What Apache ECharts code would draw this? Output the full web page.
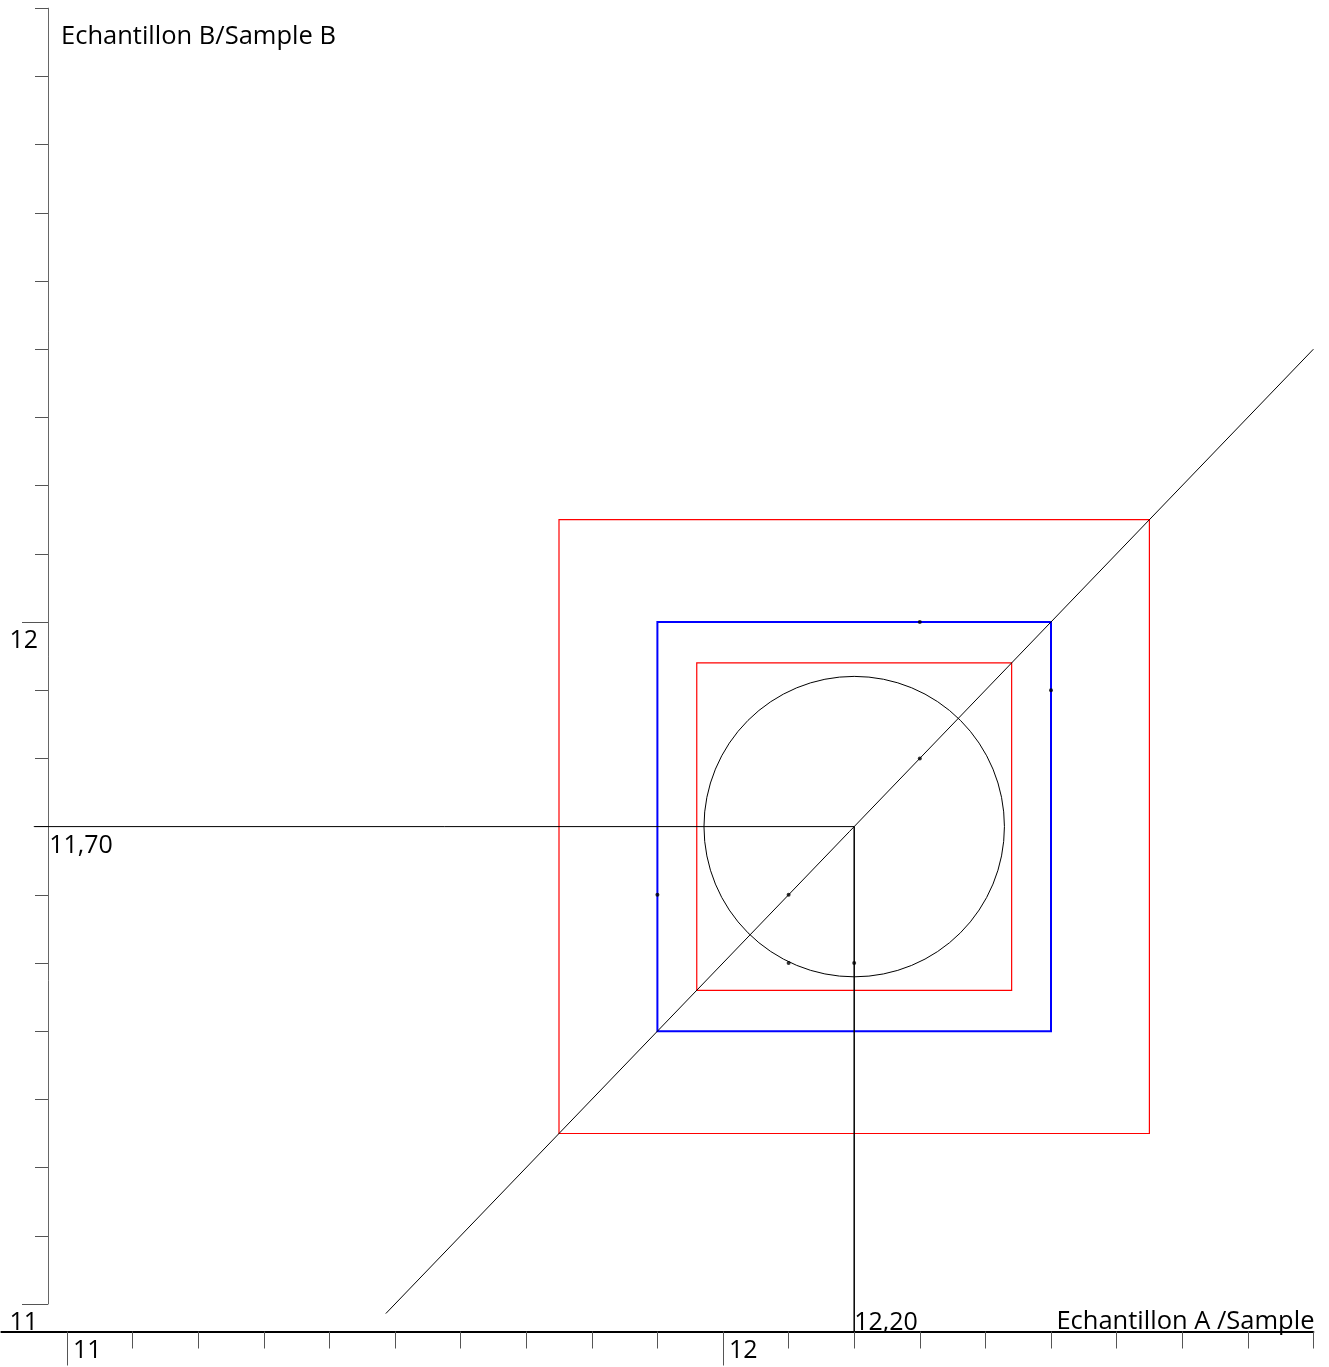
<!DOCTYPE html>
<html>
<head>
<meta charset="utf-8">
<title>Echantillon A / Echantillon B</title>
<script src="https://cdn.jsdelivr.net/npm/echarts@6.0.0/dist/echarts.min.js"></script>
<style>
	html, body { margin: 0; padding: 0; background: #fff; }
	#main { width: 1329px; height: 1367px; }
</style>
</head>
<body>
<div id="main"></div>
<script>
	// points
	var sampleA = [12.3, 12.5, 12.3, 12.1, 11.9, 12.1, 12.2];
	var sampleB = [12.0, 11.9, 11.8, 11.6, 11.6, 11.5, 11.5];
	var centre = [12.20, 11.70];
	// cadres : [A min, B min, A max, B max]
	var outerBox = [11.75, 11.25, 12.65, 12.15];
	var blueBox = [11.90, 11.40, 12.50, 12.00];
	var innerBox = [11.96, 11.46, 12.44, 11.94];
	var circleRadius = 0.229;
	// droite B = A - 0,5
	var diagA = [11.486, 12.9];
	var diagB = [10.986, 12.4];
	// traits du centre vers les axes
	var crossA = [10.95, 12.20, 12.20];
	var crossB = [11.70, 11.70, 10.96];

	var xMin = 10.9, xMax = 12.9;
	var yMin = 11, yMax = 12.9;
	var xMajorTicks = [11, 12];
	var xMinorTicks = [11.1, 11.2, 11.3, 11.4, 11.5, 11.6, 11.7, 11.8, 11.9, 12.1, 12.2, 12.3, 12.4, 12.5, 12.6, 12.7, 12.8, 12.9];
	var yMajorTicks = [11, 12];
	var yMinorTicks = [11.1, 11.2, 11.3, 11.4, 11.5, 11.6, 11.7, 11.8, 11.9, 12.1, 12.2, 12.3, 12.4, 12.5, 12.6, 12.7, 12.8, 12.9];

	var font = '"Open Sans", sans-serif';
	function fr(v) { return v.toFixed(2).replace('.', ','); }

	function boxSeries(name, limits, color, width) {
		return {
			name: name,
			type: 'custom',
			silent: true,
			data: [limits],
			renderItem: function (params, api) {
				var p0 = api.coord([api.value(0), api.value(3)]);
				var p1 = api.coord([api.value(2), api.value(1)]);
				return {
					type: 'rect',
					shape: { x: p0[0], y: p0[1], width: p1[0] - p0[0], height: p1[1] - p0[1] },
					style: { fill: 'none', stroke: color, lineWidth: width }
				};
			}
		};
	}

	var points = [];
	for (var i = 0; i < sampleA.length; i++) {
		points.push([sampleA[i], sampleB[i]]);
	}

	var myChart = echarts.init(document.getElementById('main'));
	var option = {
		animation: false,
		grid: {
			left: 1.4,
			right: 15.6,
			top: 8.2,
			bottom: 63,
			containLabel: false,
			outerBoundsMode: 'none'
		},
		xAxis: [
			{
				type: 'value', min: xMin, max: xMax, position: 'bottom', offset: 27.5,
				axisLine: { show: true, lineStyle: { color: '#000', width: 2 } },
				axisTick: { show: true, customValues: xMajorTicks, length: 34, lineStyle: { color: '#555', width: 1 } },
				axisLabel: {
					show: true, customValues: xMajorTicks, margin: 0,
					formatter: '{a|{value}}',
					rich: { a: { padding: [0, 0, 0, 6], lineHeight: 39, fontSize: 25, color: '#000', fontFamily: font } },
					align: 'left', verticalAlign: 'top', lineHeight: 39,
					fontSize: 25, color: '#000', fontFamily: font
				},
				splitLine: { show: false },
				name: 'Echantillon A /Sample B',
				nameLocation: 'end',
				nameGap: -257,
				nameMoveOverlap: false,
				nameTruncate: { maxWidth: 260, ellipsis: '' },
				nameTextStyle: {
					align: 'left', verticalAlign: 'bottom', lineHeight: 20,
					fontSize: 25.5, color: '#000', fontFamily: font
				}
			},
			{
				type: 'value', min: xMin, max: xMax, position: 'bottom', offset: 27.5,
				axisLine: { show: false },
				axisTick: { show: true, customValues: xMinorTicks, length: 17, lineStyle: { color: '#555', width: 1 } },
				axisLabel: { show: false },
				splitLine: { show: false }
			}
		],
		yAxis: [
			{
				type: 'value', min: yMin, max: yMax, position: 'left', offset: -46.6,
				axisLine: { show: true, lineStyle: { color: '#666', width: 1 } },
				axisTick: { show: true, customValues: yMajorTicks, length: 26, lineStyle: { color: '#555', width: 1 } },
				axisLabel: {
					show: true, customValues: yMajorTicks, margin: 10,
					align: 'right', verticalAlign: 'top', lineHeight: 38,
					fontSize: 25, color: '#000', fontFamily: font
				},
				splitLine: { show: false },
				name: 'Echantillon B/Sample B',
				nameLocation: 'end',
				nameGap: -28.3,
				nameMoveOverlap: false,
				nameTextStyle: {
					align: 'left', verticalAlign: 'middle', padding: [0, 0, 0, 13],
					fontSize: 25.5, color: '#000', fontFamily: font
				}
			},
			{
				type: 'value', min: yMin, max: yMax, position: 'left', offset: -46.6,
				axisLine: { show: false },
				axisTick: { show: true, customValues: yMinorTicks, length: 13, lineStyle: { color: '#555', width: 1 } },
				axisLabel: { show: false },
				splitLine: { show: false }
			}
		],
		series: [
			boxSeries('limite externe', outerBox, '#ff0000', 1.2),
			boxSeries('limite bleue', blueBox, '#0000ff', 2),
			boxSeries('limite interne', innerBox, '#ff0000', 1.2),
			{
				name: 'cercle',
				type: 'custom',
				silent: true,
				data: [[centre[0], centre[1], circleRadius]],
				renderItem: function (params, api) {
					var c = api.coord([api.value(0), api.value(1)]);
					var r = api.size([api.value(2), 0])[0];
					return {
						type: 'circle',
						shape: { cx: c[0], cy: c[1], r: r },
						style: { fill: 'none', stroke: '#000', lineWidth: 1 }
					};
				}
			},
			{
				name: 'diagonale',
				type: 'line',
				clip: false,
				symbol: 'none',
				lineStyle: { color: '#000', width: 1 },
				data: [[diagA[0], diagB[0]], [diagA[1], diagB[1]]]
			},
			{
				name: 'centre B',
				type: 'line',
				clip: false,
				symbol: 'none',
				lineStyle: { color: '#000', width: 1 },
				data: [[crossA[0], crossB[0]], [crossA[1], crossB[1]]]
			},
			{
				name: 'centre A',
				type: 'line',
				clip: false,
				symbol: 'none',
				lineStyle: { color: '#000', width: 1.5 },
				data: [[crossA[1], crossB[1]], [crossA[2], crossB[2]]]
			},
			{
				name: 'etiquettes',
				type: 'scatter',
				clip: false,
				silent: true,
				symbolSize: 1,
				itemStyle: { color: '#000', opacity: 1 },
				data: [
					{
						value: [crossA[0], crossB[0]],
						label: {
							show: true, formatter: fr(centre[1]), position: 'inside',
							align: 'left', verticalAlign: 'middle', offset: [15, 19.5],
							fontSize: 25, color: '#000', opacity: 1, fontFamily: font
						}
					},
					{
						value: [crossA[2], crossB[2]],
						label: {
							show: true, formatter: fr(centre[0]), position: 'inside',
							align: 'left', verticalAlign: 'middle', offset: [0, -8.5],
							fontSize: 25, color: '#000', opacity: 1, fontFamily: font
						}
					}
				]
			},
			{
				name: 'points',
				type: 'scatter',
				symbolSize: 4,
				itemStyle: { color: '#000' },
				data: points
			}
		]
	};
	myChart.setOption(option);
	window.onresize = function () {
		myChart.resize();
	};
</script>
</body>
</html>
